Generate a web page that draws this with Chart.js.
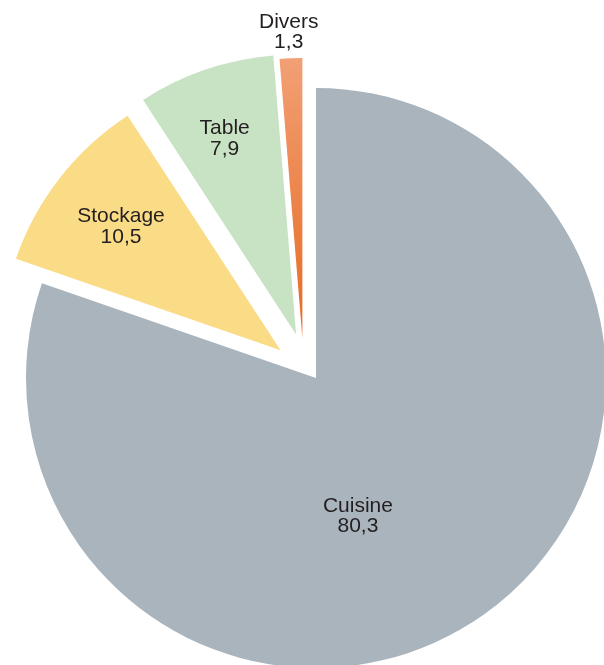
<!DOCTYPE html>
<html lang="fr">
<head>
<meta charset="utf-8">
<title>Répartition</title>
<script src="https://cdn.jsdelivr.net/npm/chart.js@4/dist/chart.umd.min.js"></script>
<style>
  html, body { margin: 0; padding: 0; background: #ffffff; }
  #pieChart { display: block; }
</style>
</head>
<body>
<canvas id="pieChart" width="604" height="665"></canvas>
<script>
// Data
const categories = ["Cuisine", "Stockage", "Table", "Divers"];
const values = [80.3, 10.5, 7.9, 1.3];
const valueLabels = ["80,3", "10,5", "7,9", "1,3"];

// Styles
const sliceColors = ["#a9b4bd", "#fadb86", "#c8e3c4", "#ee8b52"];
// wanted pull-out distance in px (Chart.js v4 only moves an arc by offset / 4)
const pullOut = [0, 45, 46, 40];
const mainRadius = 290;
const explodedRadius = 280; // pulled-out slices are a bit smaller than the main one
const sideShift = [0, 0, -5, -12]; // extra sideways nudge, the source isn't perfectly radial

// label placement: fraction of radius and small angle nudge (degrees)
const labelRadius = [0.493, 0.725, 0.75, 1.1];
const labelAngleShift = [18.4, 0.2, -1.0, -0.2];

document.addEventListener("DOMContentLoaded", () => {
  const canvas = document.getElementById("pieChart");

  // Orange slice goes from light at the top to darker at the tip
  const sliceColor = (context) => {
    if (context.dataIndex !== 3) {
      return sliceColors[context.dataIndex];
    }
    const chart = context.chart;
    if (!chart.chartArea) return sliceColors[3];
    const g = chart.ctx.createLinearGradient(0, 50, 0, 340);
    g.addColorStop(0, "#f4a984");
    g.addColorStop(1, "#e8712c");
    return g;
  };

  const explodePlugin = {
    id: "explode",
    afterUpdate(chart) {
      const meta = chart.getDatasetMeta(0);
      const area = chart.chartArea;
      const cx = (area.left + area.right) / 2;
      meta.data.forEach((arc, i) => {
        if (i > 0) {
          // the arc element grows its radius by offset/4 * (1 - sin(circumference))
          // and trims its arc length by that amount / PI, take both back
          const fix = 1 - Math.sin(Math.min(Math.PI, arc.circumference));
          const grow = pullOut[i] * fix;
          arc.outerRadius = explodedRadius - grow;
          const d = grow / (Math.PI * explodedRadius) / 2;
          arc.startAngle -= d;
          arc.endAngle += d;
        }
        arc.x = cx + sideShift[i];
      });
    },
  };

  const labelPlugin = {
    id: "sliceLabels",
    afterDatasetsDraw(chart) {
      const ctx = chart.ctx;
      const meta = chart.getDatasetMeta(0);
      ctx.save();
      ctx.font = '21px "Liberation Sans", Arial, sans-serif';
      ctx.fillStyle = "#231f20";
      ctx.textAlign = "center";
      ctx.textBaseline = "alphabetic";
      meta.data.forEach((arc, i) => {
        const mid = (arc.startAngle + arc.endAngle) / 2;
        const ox = arc.x + Math.cos(mid) * pullOut[i];
        const oy = arc.y + Math.sin(mid) * pullOut[i];
        const a = mid + (labelAngleShift[i] * Math.PI) / 180;
        const r = (i === 0 ? mainRadius : explodedRadius) * labelRadius[i];
        const px = ox + Math.cos(a) * r;
        const py = oy + Math.sin(a) * r;
        ctx.fillText(categories[i], px, py - 2.75);
        ctx.fillText(valueLabels[i], px, py + 17.75);
      });
      ctx.restore();
    },
  };

  new Chart(canvas, {
    type: "pie",
    data: {
      labels: categories,
      datasets: [
        {
          data: values,
          backgroundColor: sliceColor,
          borderWidth: 0,
          offset: pullOut.map((d) => d * 4),
        },
      ],
    },
    options: {
      responsive: false,
      animation: false,
      events: [],
      radius: mainRadius,
      rotation: 0,
      layout: {
        padding: { left: 28, top: 91, right: 0, bottom: 0 },
      },
      plugins: {
        legend: { display: false },
        tooltip: { enabled: false },
      },
    },
    plugins: [explodePlugin, labelPlugin],
  });
});
</script>
</body>
</html>
